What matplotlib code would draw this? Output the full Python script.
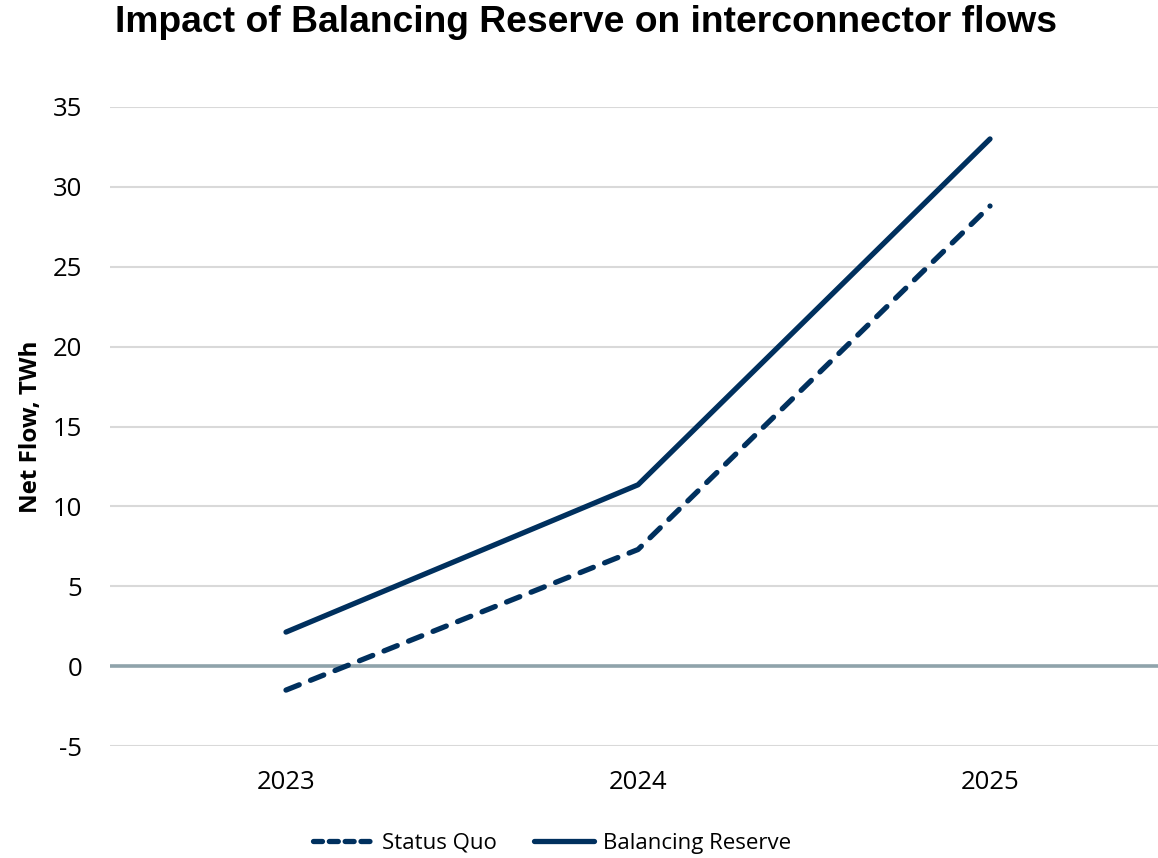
import matplotlib
matplotlib.use("Agg")
import matplotlib.pyplot as plt
from matplotlib.lines import Line2D

years = ["2023", "2024", "2025"]
status_quo = [-1.5, 7.3, 28.8]
balancing_reserve = [2.13, 11.35, 33.0]
yticks = [-5, 0, 5, 10, 15, 20, 25, 30, 35]

navy = "#00305E"
fig = plt.figure(figsize=(11.58, 8.58), dpi=100)
ax = fig.add_axes([110/1158, 1-746/858, 1-110/1158, (746-107)/858])
ax.set_axisbelow(True)

x = list(range(len(years)))
ax.plot(x, status_quo, color=navy, lw=3.8, dashes=(2.7, 2.3),
        dash_capstyle="round", solid_capstyle="round", label="Status Quo", zorder=3)
ax.plot(x, balancing_reserve, color=navy, lw=3.8, solid_capstyle="round",
        label="Balancing Reserve", zorder=3)

ax.set_xlim(-0.5, 2 + (1158-990)/352)
ax.set_ylim(-5, 35)
ax.set_yticks(yticks)
ax.set_yticklabels([str(v) for v in yticks])
ax.set_xticks(x)
ax.set_xticklabels(years)
ax.grid(axis="y", color="#D9D9D9", lw=1.5, zorder=0)
ax.axhline(0, color="#8FA3AB", lw=2.6, zorder=2)
for s in ax.spines.values():
    s.set_visible(False)
ax.tick_params(length=0, labelsize=18.5, labelcolor="#000000")
ax.tick_params(axis="y", pad=20)
ax.tick_params(axis="x", pad=17)
for lbl in ax.get_xticklabels() + ax.get_yticklabels():
    lbl.set_family(["Open Sans", "DejaVu Sans"])

ax.set_ylabel("Net Flow, TWh", fontsize=17.5, fontweight="bold",
              family=["Open Sans", "DejaVu Sans"], labelpad=7)

fig.text(586/1158, 1-23/858, "Impact of Balancing Reserve on interconnector flows",
         ha="center", va="center", fontsize=26.8, fontweight="bold",
         family=["Liberation Sans", "DejaVu Sans"])

handles = [Line2D([], [], color=navy, lw=3.8, dashes=(1.7, 1.3), dash_capstyle="round"),
           Line2D([], [], color=navy, lw=3.8, solid_capstyle="round")]
leg = fig.legend(handles, ["Status Quo", "Balancing Reserve"], loc="center",
                 bbox_to_anchor=(552/1158, 1-843/858), ncol=2, frameon=False,
                 handlelength=2.7, columnspacing=1.7, handletextpad=0.4,
                 prop={"family": ["Open Sans", "DejaVu Sans"], "size": 16})

fig.savefig("out.png", dpi=100)
